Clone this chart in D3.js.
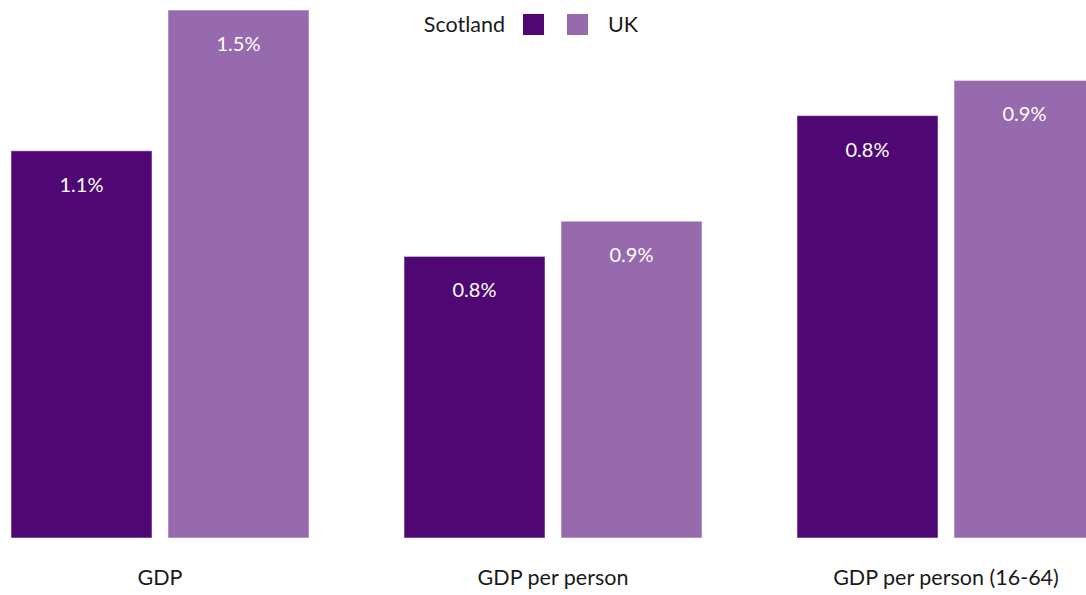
<!DOCTYPE html>
<html><head><meta charset="utf-8">
<script src="https://cdn.jsdelivr.net/npm/d3@7"></script>
<style>
html,body{margin:0;padding:0;background:#fff;}
svg{display:block;font-family:"Lato","Open Sans",sans-serif;}
</style></head>
<body><svg id="chart" width="1086" height="595"></svg>
<script>
const categories = ["GDP", "GDP per person", "GDP per person (16-64)"];
const seriesNames = ["Scotland", "UK"];
const scotlandValues = [1.1, 0.8, 1.2];
const ukValues = [1.5, 0.9, 1.3];
const scotlandLabels = ["1.1%", "0.8%", "0.8%"];
const ukLabels = ["1.5%", "0.9%", "0.9%"];
const colors = ["#4f0873", "#976aae"];

const svg = d3.select("#chart");
const baseY = 538, topY = 10;

const step = 393, band = 298;
const pad = (step - band) / step;
const x0 = d3.scaleBand().domain(categories)
  .range([11 - (step - band) / 2, 11 - (step - band) / 2 + step * categories.length])
  .paddingInner(pad).paddingOuter(pad / 2);
const x1 = d3.scaleBand().domain(seriesNames).range([0, x0.bandwidth()]).paddingInner(16 / 157).paddingOuter(0);
const y = d3.scaleLinear().domain([0, 1.5]).range([baseY, topY]);

const data = categories.map((c, i) => ({
  cat: c,
  vals: [
    {s: "Scotland", v: scotlandValues[i], l: scotlandLabels[i], c: colors[0]},
    {s: "UK", v: ukValues[i], l: ukLabels[i], c: colors[1]}
  ]
}));

const g = svg.selectAll("g.grp").data(data).join("g").attr("class", "grp")
  .attr("transform", d => `translate(${x0(d.cat)},0)`);

g.selectAll("rect").data(d => d.vals).join("rect")
  .attr("x", d => x1(d.s))
  .attr("y", d => y(d.v))
  .attr("width", x1.bandwidth())
  .attr("height", d => baseY - y(d.v))
  .attr("fill", d => d.c)
  .attr("stroke", "#ffffff").attr("stroke-opacity", 0.5).attr("stroke-width", 1);

g.selectAll("text.val").data(d => d.vals).join("text").attr("class", "val")
  .attr("x", d => x1(d.s) + x1.bandwidth() / 2)
  .attr("y", d => y(d.v) + 41)
  .attr("text-anchor", "middle")
  .attr("fill", "#ffffff")
  .attr("font-size", 20)
  .text(d => d.l);

const xAxis = d3.axisBottom(x0).tickSize(0).tickPadding(0);
const ax = svg.append("g").attr("transform", `translate(0,${baseY})`).call(xAxis);
ax.select(".domain").remove();
ax.selectAll("text").attr("font-size", 21.5).attr("fill", "#1a1a1a")
  .attr("font-family", "Lato, 'Open Sans', sans-serif").attr("dy", 0).attr("y", 47);

// legend
const leg = svg.append("g");
leg.append("text").attr("x", 505).attr("y", 32).attr("text-anchor", "end")
  .attr("font-size", 21.5).attr("fill", "#1a1a1a").text(seriesNames[0]);
leg.append("rect").attr("x", 523).attr("y", 14).attr("width", 21).attr("height", 21).attr("fill", colors[0]);
leg.append("rect").attr("x", 567).attr("y", 14).attr("width", 21).attr("height", 21).attr("fill", colors[1]);
leg.append("text").attr("x", 608).attr("y", 32).attr("text-anchor", "start")
  .attr("font-size", 21.5).attr("fill", "#1a1a1a").text(seriesNames[1]);
</script></body></html>
